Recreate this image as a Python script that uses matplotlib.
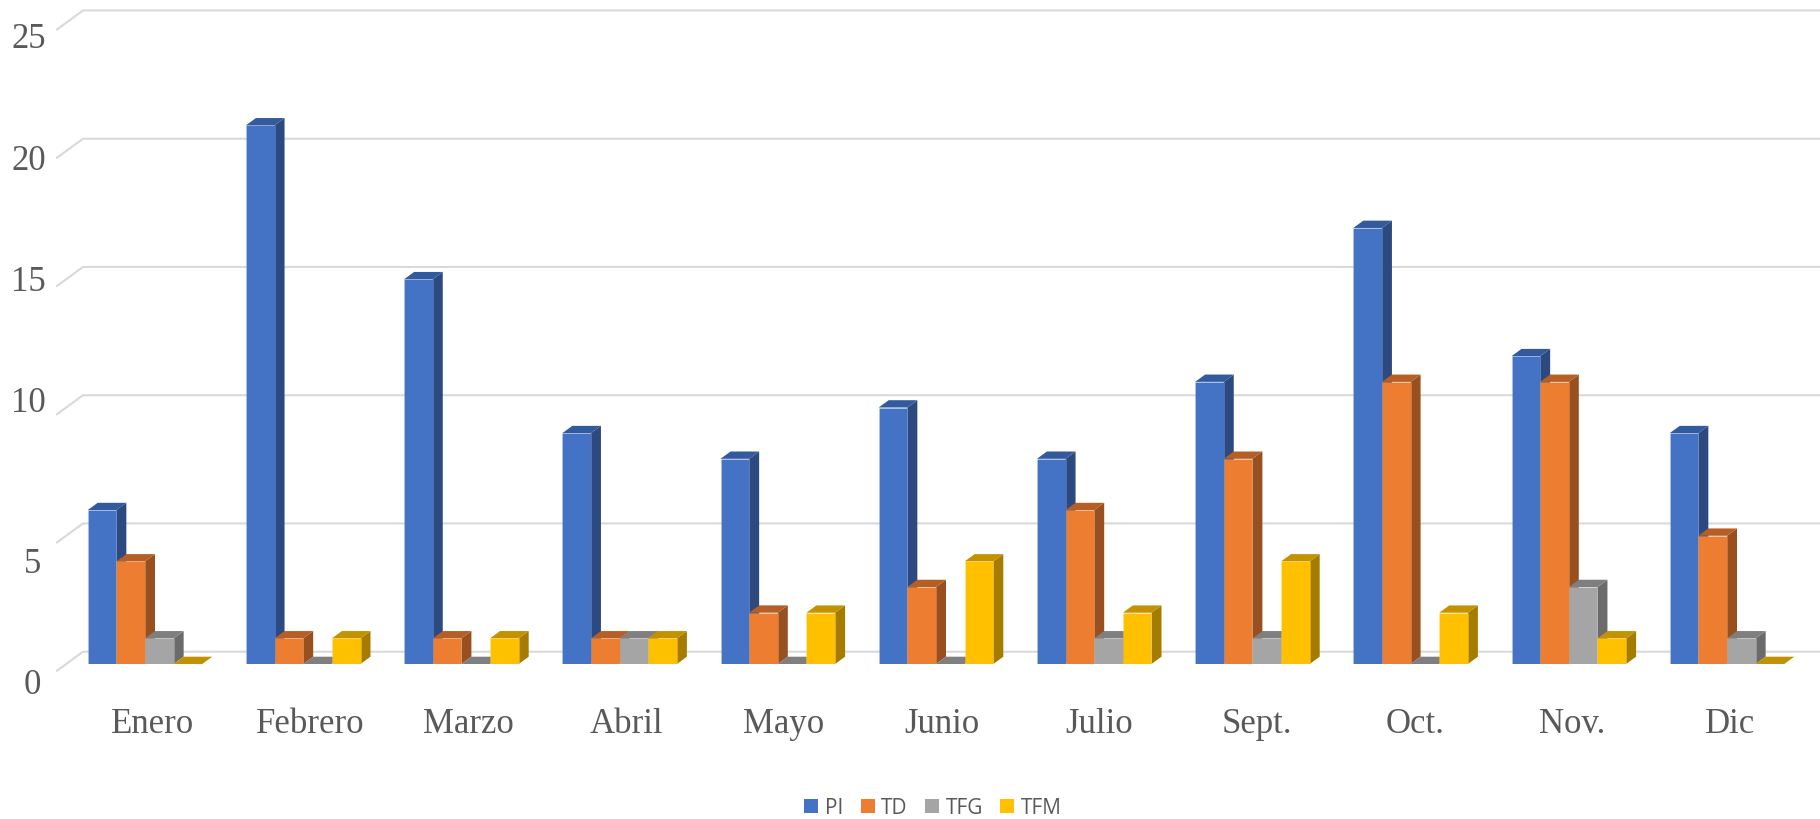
import matplotlib
matplotlib.use("Agg")
import matplotlib.pyplot as plt
from matplotlib.patches import Patch, Polygon
from matplotlib.transforms import Affine2D

months = ["Enero", "Febrero", "Marzo", "Abril", "Mayo", "Junio", "Julio",
          "Sept.", "Oct.", "Nov.", "Dic"]
series_names = ["PI", "TD", "TFG", "TFM"]
pi = [6, 21, 15, 9, 8, 10, 8, 11, 17, 12, 9]
td = [4, 1, 1, 1, 2, 3, 6, 8, 11, 11, 5]
tfg = [1, 0, 0, 1, 0, 0, 1, 1, 0, 3, 1]
tfm = [0, 1, 1, 1, 2, 4, 2, 4, 2, 1, 0]
y_ticks = [0, 5, 10, 15, 20, 25]

front_colors = ["#4472C4", "#ED7D31", "#A5A5A5", "#FFC000"]
side_colors = ["#2C4A80", "#985020", "#6B6B6B", "#A67C00"]
top_colors = ["#335A9C", "#B55E25", "#7F7F7F", "#C29200"]
text_color = "#595959"
grid_color = "#D9D9D9"

W, H = 1820, 819
PX_PER_VALUE = 25.65   # vertical scale
PX_PER_GROUP = 158.2   # month spacing
BASE_Y = 664           # pixel row of the bars' base
FIRST_CENTER = 145     # pixel column of the first month

# fake 3D offsets, converted to data units
bar_w = 28.65 / PX_PER_GROUP
depth_x = 10 / PX_PER_GROUP
depth_y = 7.3 / PX_PER_VALUE
wall_x = 26 / PX_PER_GROUP
wall_y = 19 / PX_PER_VALUE
wall_lift = 12.3 / PX_PER_VALUE

fig = plt.figure(figsize=(W / 100, H / 100), dpi=100)
ax = fig.add_axes([0, 1 - BASE_Y / H, 1, BASE_Y / H])
ax.set_xlim(-FIRST_CENTER / PX_PER_GROUP, (W - FIRST_CENTER) / PX_PER_GROUP)
ax.set_ylim(0, BASE_Y / PX_PER_VALUE)

# back wall gridlines with the slanted piece on the left
x_back = ax.get_xlim()[0] + 83 / PX_PER_GROUP
x_right = ax.get_xlim()[1]
for v in y_ticks:
    yb = v + wall_lift
    ax.plot([x_back - wall_x, x_back, x_right], [yb - wall_y, yb, yb],
            color=grid_color, lw=1.5, zorder=1, clip_on=False,
            solid_joinstyle="miter")

all_series = [pi, td, tfg, tfm]
for i in range(len(months)):
    for s, values in enumerate(all_series):
        v = values[i]
        x0 = i + (s - 2) * bar_w
        x1 = x0 + bar_w
        side = [(x1, 0), (x1 + depth_x, depth_y),
                (x1 + depth_x, v + depth_y), (x1, v)]
        top = [(x0, v), (x1, v), (x1 + depth_x, v + depth_y),
               (x0 + depth_x, v + depth_y)]
        if v > 0:
            ax.add_patch(Polygon(side, closed=True, fc=side_colors[s], lw=0, zorder=3))
        ax.add_patch(Polygon(top, closed=True, fc=top_colors[s], lw=0, zorder=3,
                             clip_on=False))
        if v > 0:
            ax.bar(x0, v, width=bar_w, align="edge", color=front_colors[s],
                   edgecolor=(1, 1, 1, 0.12), linewidth=0.7, zorder=3)

for spine in ax.spines.values():
    spine.set_visible(False)
ax.patch.set_visible(False)

ax.set_xticks(range(len(months)))
ax.set_xticklabels(months, family="Liberation Serif", fontsize=25, color=text_color)
ax.set_yticks(y_ticks)
ax.set_yticklabels([str(v) for v in y_ticks], family="Liberation Serif",
                   fontsize=25, color=text_color)
ax.tick_params(axis="both", length=0)
ax.tick_params(axis="x", pad=32)
ax.tick_params(axis="y", pad=0)

# Excel's labels don't line up with the 3D gridlines, nudge them (pixels)
y_label_shift = [(-5, -17), (-5, -25), (0, 8.5), (0, 1), (0, -6), (0, -13)]
for lab, (dx, dy) in zip(ax.get_yticklabels(), y_label_shift):
    lab.set_horizontalalignment("right")
    lab.set_transform(lab.get_transform() + Affine2D().translate(46 + dx, dy))
for i, lab in enumerate(ax.get_xticklabels()):
    lab.set_transform(lab.get_transform() + Affine2D().translate(8 - 0.5 * i, 0))

handles = [Patch(facecolor=c, label=n) for c, n in zip(front_colors, series_names)]
fig.legend(handles=handles, loc="center", bbox_to_anchor=(933 / W, 1 - 808 / H),
           ncol=4, frameon=False, prop={"family": "Open Sans", "size": 15},
           labelcolor=text_color, handlelength=0.67, handleheight=0.67,
           handletextpad=0.3, columnspacing=0.85, borderpad=0)

fig.savefig("out.png", dpi=100)
